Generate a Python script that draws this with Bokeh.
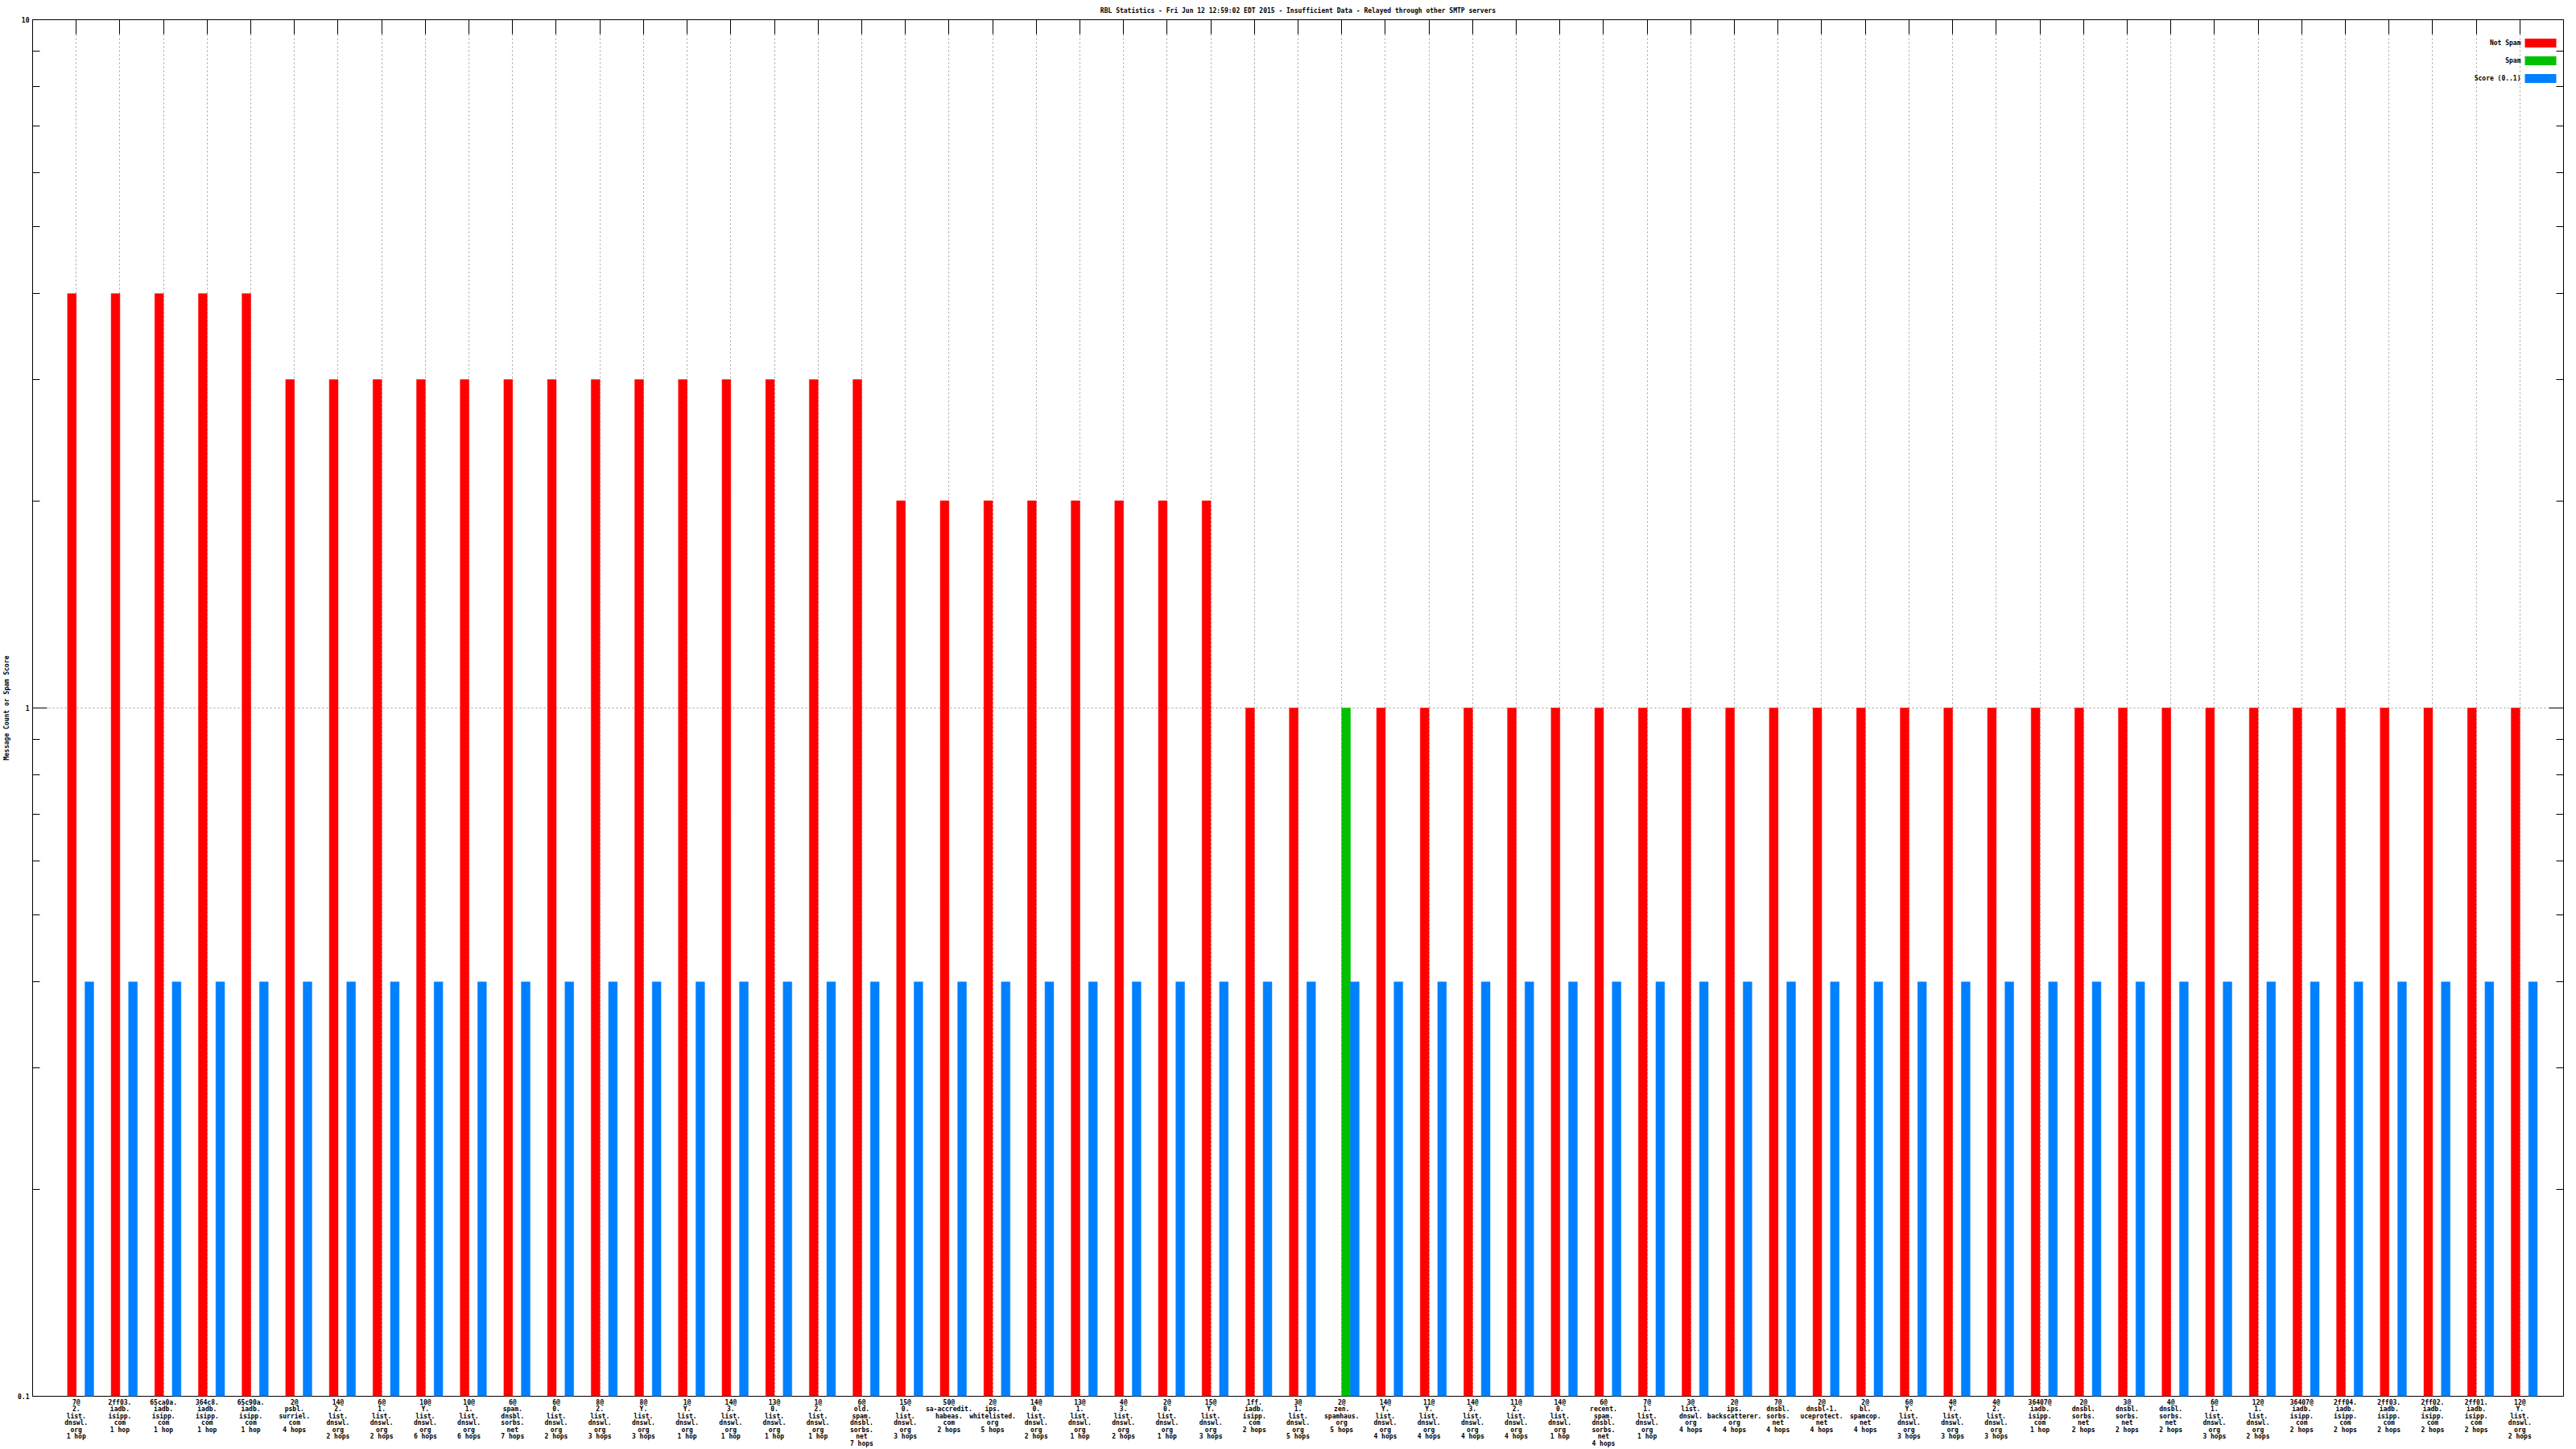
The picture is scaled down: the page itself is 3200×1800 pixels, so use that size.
import numpy as np
from bokeh.plotting import figure
from bokeh.models import (ColumnDataSource, Range1d, FixedTicker, LinearAxis, LogAxis,
                          Label, BoxAnnotation, CustomJSTickFormatter)
from bokeh.transform import dodge
from bokeh.embed import file_html
from bokeh.resources import INLINE

categories = [
    "7@\n2.\nlist.\ndnswl.\norg\n1 hop",
    "2ff03.\niadb.\nisipp.\ncom\n1 hop",
    "65ca0a.\niadb.\nisipp.\ncom\n1 hop",
    "364c8.\niadb.\nisipp.\ncom\n1 hop",
    "65c90a.\niadb.\nisipp.\ncom\n1 hop",
    "2@\npsbl.\nsurriel.\ncom\n4 hops",
    "14@\n2.\nlist.\ndnswl.\norg\n2 hops",
    "6@\n1.\nlist.\ndnswl.\norg\n2 hops",
    "10@\nY.\nlist.\ndnswl.\norg\n6 hops",
    "10@\n1.\nlist.\ndnswl.\norg\n6 hops",
    "6@\nspam.\ndnsbl.\nsorbs.\nnet\n7 hops",
    "6@\n0.\nlist.\ndnswl.\norg\n2 hops",
    "8@\n2.\nlist.\ndnswl.\norg\n3 hops",
    "8@\nY.\nlist.\ndnswl.\norg\n3 hops",
    "1@\nY.\nlist.\ndnswl.\norg\n1 hop",
    "14@\n3.\nlist.\ndnswl.\norg\n1 hop",
    "13@\n0.\nlist.\ndnswl.\norg\n1 hop",
    "1@\n2.\nlist.\ndnswl.\norg\n1 hop",
    "6@\nold.\nspam.\ndnsbl.\nsorbs.\nnet\n7 hops",
    "15@\n0.\nlist.\ndnswl.\norg\n3 hops",
    "50@\nsa-accredit.\nhabeas.\ncom\n2 hops",
    "2@\nips.\nwhitelisted.\norg\n5 hops",
    "14@\n0.\nlist.\ndnswl.\norg\n2 hops",
    "13@\n1.\nlist.\ndnswl.\norg\n1 hop",
    "4@\n3.\nlist.\ndnswl.\norg\n2 hops",
    "2@\n0.\nlist.\ndnswl.\norg\n1 hop",
    "15@\nY.\nlist.\ndnswl.\norg\n3 hops",
    "1ff.\niadb.\nisipp.\ncom\n2 hops",
    "3@\n1.\nlist.\ndnswl.\norg\n5 hops",
    "2@\nzen.\nspamhaus.\norg\n5 hops",
    "14@\nY.\nlist.\ndnswl.\norg\n4 hops",
    "11@\nY.\nlist.\ndnswl.\norg\n4 hops",
    "14@\n3.\nlist.\ndnswl.\norg\n4 hops",
    "11@\n2.\nlist.\ndnswl.\norg\n4 hops",
    "14@\n0.\nlist.\ndnswl.\norg\n1 hop",
    "6@\nrecent.\nspam.\ndnsbl.\nsorbs.\nnet\n4 hops",
    "7@\n1.\nlist.\ndnswl.\norg\n1 hop",
    "3@\nlist.\ndnswl.\norg\n4 hops",
    "2@\nips.\nbackscatterer.\norg\n4 hops",
    "7@\ndnsbl.\nsorbs.\nnet\n4 hops",
    "2@\ndnsbl-1.\nuceprotect.\nnet\n4 hops",
    "2@\nbl.\nspamcop.\nnet\n4 hops",
    "6@\nY.\nlist.\ndnswl.\norg\n3 hops",
    "4@\nY.\nlist.\ndnswl.\norg\n3 hops",
    "4@\n2.\nlist.\ndnswl.\norg\n3 hops",
    "36407@\niadb.\nisipp.\ncom\n1 hop",
    "2@\ndnsbl.\nsorbs.\nnet\n2 hops",
    "3@\ndnsbl.\nsorbs.\nnet\n2 hops",
    "4@\ndnsbl.\nsorbs.\nnet\n2 hops",
    "6@\n1.\nlist.\ndnswl.\norg\n3 hops",
    "12@\n1.\nlist.\ndnswl.\norg\n2 hops",
    "36407@\niadb.\nisipp.\ncom\n2 hops",
    "2ff04.\niadb.\nisipp.\ncom\n2 hops",
    "2ff03.\niadb.\nisipp.\ncom\n2 hops",
    "2ff02.\niadb.\nisipp.\ncom\n2 hops",
    "2ff01.\niadb.\nisipp.\ncom\n2 hops",
    "12@\nY.\nlist.\ndnswl.\norg\n2 hops",
]

not_spam = [4, 4, 4, 4, 4,
            3, 3, 3, 3, 3, 3, 3, 3, 3, 3, 3, 3, 3, 3,
            2, 2, 2, 2, 2, 2, 2, 2,
            1, 1, 0,
            1, 1, 1, 1, 1, 1, 1, 1, 1,
            1, 1, 1, 1, 1, 1, 1, 1, 1,
            1, 1, 1, 1, 1, 1, 1, 1, 1]

spam = [0, 0, 0, 0, 0,
        0, 0, 0, 0, 0, 0, 0, 0, 0, 0, 0, 0, 0, 0,
        0, 0, 0, 0, 0, 0, 0, 0,
        0, 0, 1,
        0, 0, 0, 0, 0, 0, 0, 0, 0,
        0, 0, 0, 0, 0, 0, 0, 0, 0,
        0, 0, 0, 0, 0, 0, 0, 0, 0]

score = [0.4, 0.4, 0.4, 0.4, 0.4,
         0.4, 0.4, 0.4, 0.4, 0.4, 0.4, 0.4, 0.4, 0.4, 0.4, 0.4, 0.4, 0.4, 0.4,
         0.4, 0.4, 0.4, 0.4, 0.4, 0.4, 0.4, 0.4,
         0.4, 0.4, 0.4,
         0.4, 0.4, 0.4, 0.4, 0.4, 0.4, 0.4, 0.4, 0.4,
         0.4, 0.4, 0.4, 0.4, 0.4, 0.4, 0.4, 0.4, 0.4,
         0.4, 0.4, 0.4, 0.4, 0.4, 0.4, 0.4, 0.4, 0.4]

series_names = ["Not Spam", "Spam", "Score (0..1)"]
series_colors = ["#ff0000", "#00c000", "#0080ff"]
title_text = ("RBL Statistics - Fri Jun 12 12:59:02 EDT 2015 - Insufficient Data - "
              "Relayed through other SMTP servers")
y_ticks = [0.1, 1, 10]
y_minor = [0.2, 0.3, 0.4, 0.5, 0.6, 0.7, 0.8, 0.9, 2, 3, 4, 5, 6, 7, 8, 9]

FONT = "DejaVu Sans Mono"
FS = "8px"
FSTYLE = "bold"
N = len(categories)
idx = np.arange(N)

W, H = 3200, 1800
BL, BR, BT, BB = 40, 16, 24, 65

p = figure(width=W, height=H, x_range=Range1d(-1, N), y_range=Range1d(0.1, 10),
           y_axis_type="log", output_backend="svg", toolbar_location=None,
           min_border_left=BL, min_border_right=BR, min_border_top=BT, min_border_bottom=BB,
           title=title_text)
p.title.align = "center"
p.title.text_font = FONT
p.title.text_font_size = FS
p.title.text_font_style = FSTYLE
p.title.text_color = "black"
p.title.standoff = 13
p.outline_line_color = "black"
p.outline_line_width = 1
p.background_fill_color = "white"
p.border_fill_color = "white"

# bars
offsets = [-0.1, 0.1, 0.3]
for vals, off, col in zip([not_spam, spam, score], offsets, series_colors):
    arr = np.asarray(vals, dtype=float)
    m = arr > 0
    src = ColumnDataSource(dict(x=idx[m], top=arr[m]))
    p.vbar(x=dodge("x", off), top="top", bottom=0.1, width=0.2, source=src,
           fill_color=col, line_color=col, line_width=0.5)

# x axis (bottom)
xt = FixedTicker(ticks=list(idx), minor_ticks=[])
xa = p.xaxis[0]
xa.ticker = xt
xa.major_label_overrides = {int(i): categories[i] for i in idx}
xa.major_label_text_font = FONT
xa.major_label_text_font_size = FS
xa.major_label_text_font_style = FSTYLE
xa.major_label_text_color = "black"
xa.major_label_text_line_height = 0.95
xa.major_label_standoff = 3
xa.major_tick_in = 0
xa.major_tick_out = 0
xa.minor_tick_in = 0
xa.minor_tick_out = 0
xa.axis_line_color = None

# top axis: ticks only
ta = LinearAxis(ticker=xt, major_label_text_font_size="0px", major_label_standoff=0,
                major_tick_in=18, major_tick_out=0, minor_tick_in=0, minor_tick_out=0,
                axis_line_color=None, major_tick_line_color="black")
ta.major_label_overrides = {int(i): "" for i in idx}
p.add_layout(ta, "above")

# y axis (left)
yt = FixedTicker(ticks=y_ticks, minor_ticks=y_minor)
ya = p.yaxis[0]
ya.ticker = yt
ya.formatter = CustomJSTickFormatter(code="return String(tick);")
ya.major_label_text_font = FONT
ya.major_label_text_font_size = FS
ya.major_label_text_font_style = FSTYLE
ya.major_label_text_color = "black"
ya.major_label_standoff = 4
ya.major_tick_in = 18
ya.major_tick_out = 0
ya.minor_tick_in = 9
ya.minor_tick_out = 0
ya.axis_line_color = None
ya.axis_label = "Message Count or Spam Score"
ya.axis_label_text_font = FONT
ya.axis_label_text_font_size = FS
ya.axis_label_text_font_style = FSTYLE
ya.axis_label_text_color = "black"
ya.axis_label_standoff = 6

# right axis: ticks only
ra = LogAxis(ticker=yt, major_label_text_font_size="0px", major_label_standoff=0,
             major_tick_in=18, major_tick_out=0, minor_tick_in=9, minor_tick_out=0,
             axis_line_color=None)
ra.formatter = CustomJSTickFormatter(code="return '';")
p.add_layout(ra, "right")

# grids
for g in (p.xgrid[0], p.ygrid[0]):
    g.grid_line_color = "#a0a0a0"
    g.grid_line_dash = "2 3"
    g.grid_line_width = 1

# legend (top-right, label to the left of colour box)
FW = W - BL - BR
FH = H - BT - BB
px_x = (N + 1) / FW
dec_px = FH / 2.0


def fx(px_from_right):
    return N - px_from_right * px_x


def fy(px_from_top):
    return 10 ** (1 - px_from_top / dec_px)


for k, (name, col) in enumerate(zip(series_names, series_colors)):
    cy = 29 + 22 * k
    p.add_layout(BoxAnnotation(left=fx(48), right=fx(9), top=fy(cy - 5.5), bottom=fy(cy + 5.5),
                               fill_color=col, fill_alpha=1, line_color=None, level="overlay"))
    p.add_layout(Label(x=fx(53), y=fy(cy), text=name, text_align="right", text_baseline="middle",
                       text_font=FONT, text_font_size=FS, text_font_style=FSTYLE,
                       text_color="black"))

open("out.html", "w").write(file_html(p, INLINE))
